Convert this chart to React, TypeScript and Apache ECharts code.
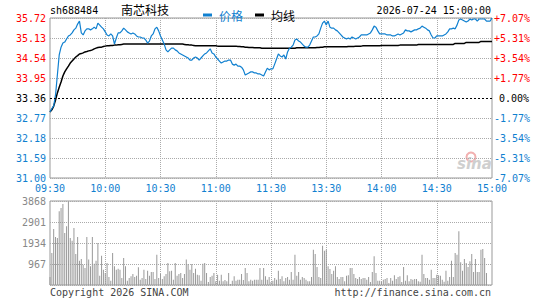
import React, { useEffect, useRef } from 'react';
import * as echarts from 'echarts';

const stockCode = 'sh688484';
const stockName = '南芯科技';
const dateTime = '2026-07-24 15:00:00';
const preClose = 33.36;

const priceTicks = ['31.00', '31.59', '32.18', '32.77', '33.36', '33.95', '34.54', '35.13', '35.72'];
const pctTicks = ['-7.07%', '-5.31%', '-3.54%', '-1.77%', '0.00%', '+1.77%', '+3.54%', '+5.31%', '+7.07%'];
const timeTicks = ['09:30', '10:00', '10:30', '11:00', '11:30', '13:30', '14:00', '14:30', '15:00'];

const price = [
  32.95, 33.05, 33.13, 33.45, 34.04, 34.63, 34.86, 34.98, 35.01, 35.10,
  35.19, 35.22, 35.28, 35.37, 35.42, 35.54, 35.63, 35.28, 35.22, 35.34,
  35.40, 35.40, 35.37, 35.40, 35.45, 35.40, 35.57, 35.51, 35.45, 35.40,
  35.31, 35.22, 35.19, 35.25, 35.19, 34.95, 35.13, 35.28, 35.28, 35.34,
  35.42, 35.37, 35.31, 35.28, 35.25, 35.28, 35.25, 35.19, 35.16, 35.16,
  35.13, 35.13, 35.07, 34.98, 35.04, 35.19, 35.25, 35.40, 35.45, 35.34,
  35.19, 35.07, 34.95, 34.78, 34.72, 34.78, 34.83, 34.83, 34.78, 34.75,
  34.69, 34.66, 34.63, 34.60, 34.57, 34.54, 34.48, 34.48, 34.54, 34.57,
  34.54, 34.48, 34.54, 34.60, 34.66, 34.69, 34.75, 34.81, 34.69, 34.66,
  34.57, 34.51, 34.45, 34.39, 34.42, 34.45, 34.45, 34.48, 34.48, 34.36,
  34.33, 34.36, 34.30, 34.30, 34.27, 34.19, 34.04, 34.07, 34.10, 34.13,
  34.13, 34.10, 34.10, 34.07, 34.07, 34.04, 34.01, 34.13, 34.24, 34.19,
  34.22, 34.22, 34.36, 34.51, 34.66, 34.60, 34.57, 34.63, 34.51, 34.72,
  34.83, 34.86, 34.92, 35.07, 35.10, 35.04, 35.01, 34.95, 34.89, 34.86,
  34.86, 34.92, 35.04, 35.16, 35.16, 35.19, 35.25, 35.42, 35.57, 35.63,
  35.51, 35.63, 35.45, 35.42, 35.42, 35.37, 35.34, 35.28, 35.22, 35.16,
  35.13, 35.10, 35.13, 35.10, 35.16, 35.13, 35.10, 35.13, 35.16, 35.22,
  35.22, 35.22, 35.22, 35.25, 35.28, 35.37, 35.48, 35.45, 35.34, 35.25,
  35.25, 35.25, 35.25, 35.22, 35.22, 35.22, 35.19, 35.19, 35.22, 35.25,
  35.22, 35.25, 35.28, 35.37, 35.34, 35.34, 35.31, 35.34, 35.37, 35.37,
  35.40, 35.42, 35.48, 35.45, 35.42, 35.37, 35.34, 35.22, 35.13, 35.13,
  35.19, 35.19, 35.19, 35.19, 35.22, 35.25, 35.31, 35.40, 35.40, 35.42,
  35.40, 35.51, 35.66, 35.69, 35.66, 35.63, 35.60, 35.63, 35.69, 35.66,
  35.69, 35.69, 35.63, 35.69, 35.69, 35.69, 35.69, 35.63, 35.63, 35.63,
  35.72,
];

const avgPrice = [
  32.95, 33.01, 33.12, 33.30, 33.51, 33.68, 33.83, 34.01, 34.13, 34.22,
  34.30, 34.39, 34.45, 34.51, 34.57, 34.61, 34.66, 34.67, 34.69, 34.72,
  34.73, 34.75, 34.76, 34.78, 34.81, 34.83, 34.85, 34.86, 34.86, 34.88,
  34.89, 34.90, 34.90, 34.91, 34.91, 34.92, 34.92, 34.93, 34.93, 34.94,
  34.95, 34.95, 34.95, 34.95, 34.95, 34.95, 34.95, 34.95, 34.95, 34.95,
  34.95, 34.95, 34.95, 34.95, 34.95, 34.95, 34.95, 34.95, 34.95, 34.95,
  34.95, 34.95, 34.95, 34.95, 34.95, 34.95, 34.95, 34.95, 34.95, 34.95,
  34.95, 34.95, 34.95, 34.94, 34.93, 34.93, 34.92, 34.92, 34.91, 34.90,
  34.90, 34.90, 34.90, 34.90, 34.90, 34.90, 34.90, 34.90, 34.90, 34.90,
  34.90, 34.89, 34.89, 34.89, 34.89, 34.89, 34.89, 34.89, 34.89, 34.89,
  34.89, 34.89, 34.88, 34.88, 34.87, 34.87, 34.86, 34.86, 34.85, 34.85,
  34.85, 34.84, 34.84, 34.84, 34.84, 34.83, 34.83, 34.83, 34.83, 34.83,
  34.83, 34.83, 34.83, 34.83, 34.83, 34.83, 34.83, 34.83, 34.83, 34.83,
  34.83, 34.83, 34.83, 34.83, 34.84, 34.84, 34.84, 34.84, 34.84, 34.84,
  34.84, 34.84, 34.84, 34.84, 34.84, 34.85, 34.85, 34.86, 34.86, 34.87,
  34.87, 34.87, 34.87, 34.87, 34.87, 34.87, 34.87, 34.87, 34.87, 34.87,
  34.87, 34.87, 34.88, 34.88, 34.88, 34.88, 34.89, 34.89, 34.89, 34.89,
  34.90, 34.90, 34.90, 34.90, 34.90, 34.90, 34.90, 34.90, 34.90, 34.90,
  34.91, 34.91, 34.91, 34.91, 34.91, 34.91, 34.91, 34.91, 34.91, 34.91,
  34.92, 34.92, 34.92, 34.92, 34.92, 34.92, 34.92, 34.92, 34.92, 34.92,
  34.94, 34.94, 34.94, 34.94, 34.94, 34.94, 34.94, 34.94, 34.94, 34.94,
  34.94, 34.94, 34.94, 34.94, 34.94, 34.94, 34.94, 34.94, 34.94, 34.94,
  34.97, 34.97, 34.97, 34.97, 34.97, 34.97, 35.00, 35.00, 35.00, 35.00,
  35.00, 35.00, 35.00, 35.00, 35.03, 35.03, 35.03, 35.03, 35.03, 35.03,
  35.03,
];

const volume = [
  368, 1473, 2578, 2210, 2164, 3393, 3545, 3730, 2394, 2703,
  3850, 2164, 2040, 2625, 1427, 2210, 1119, 1197, 935, 783,
  2210, 1170, 860, 2210, 982, 1119, 1934, 430, 1350, 705,
  552, 1013, 368, 200, 1473, 860, 705, 751, 705, 322,
  1243, 860, 200, 322, 400, 506, 368, 430, 813, 245,
  322, 705, 276, 660, 430, 598, 598, 276, 1395, 322,
  506, 276, 400, 506, 1013, 629, 660, 245, 1013, 430,
  506, 552, 322, 506, 1170, 966, 705, 966, 552, 751,
  475,
  446, 200, 982, 1013, 552, 138, 368, 430, 552, 170,
  475, 200, 475, 170, 230, 170, 552, 46, 200, 400,
  200, 245, 245, 506, 230, 783, 552, 170, 245, 200,
  245, 245, 245, 783, 245, 783, 400, 245, 368, 138,
  200,
  322, 245, 660, 276, 400, 170, 322, 368, 245, 598,
  245, 1395, 430, 598, 245, 368, 322, 245, 170, 170,
  368, 1625, 1427, 829, 368, 322, 1810, 1580, 1625, 860,
  736, 506, 660, 860, 368, 276, 368, 368, 170, 430,
  446, 783, 783, 506, 322, 276, 368, 276, 322, 322,
  245, 368, 138, 598, 1320, 552, 200, 200, 150,
  245, 276, 322, 92, 322, 200, 446, 276, 368, 400,
  138, 829, 200, 446, 170, 276, 245, 276, 276, 170,
  150,
  1395, 506, 322, 322, 245, 705, 322, 322, 475, 446, 430, 245,
  150,
  660, 200, 368, 1119, 368, 1473, 1395, 2471, 1043, 660,
  1197, 1013, 829, 1090, 1427, 598, 1197, 598, 598, 1625,
  1655, 1243, 552,
  0, 0, 0,
];

function buildMinutes(): string[] {
  const out: string[] = [];
  const fmt = (t: number) => {
    const h = Math.floor(t / 60);
    const m = t % 60;
    return (h < 10 ? '0' : '') + h + ':' + (m < 10 ? '0' : '') + m;
  };
  for (let t = 9 * 60 + 30; t <= 11 * 60 + 30; t++) out.push(fmt(t));
  for (let t = 13 * 60 + 1; t <= 15 * 60; t++) out.push(fmt(t));
  return out;
}

const MONO = "'DejaVu Sans Mono', 'Liberation Mono', monospace";
const CJK = "'Noto Sans CJK SC', sans-serif";
const BLUE = '#1080d0';
const RED = '#ff0000';
const GRIDC = '#aaaaaa';
const BORDER = '#999999';

export default function App() {
  const ref = useRef<HTMLDivElement>(null);

  useEffect(() => {
    if (!ref.current) return;
    const chart = echarts.init(ref.current, null, { renderer: 'svg' });
    const minutes = buildMinutes();
    const isTick = (i: number) => i % 30 === 0;
    const isInner = (i: number) => i % 30 === 0 && i > 0 && i < 240;
    const tickColor = (v: any) => {
      const n = Number(v);
      return n > 4 ? RED : n === 4 ? '#000000' : BLUE;
    };
    const splitColors = priceTicks.map((_, i) => (i === 4 ? 'rgba(0,0,0,0)' : GRIDC));

    const option: any = {
      animation: false,
      legend: {
        left: 198,
        top: 4,
        icon: 'rect',
        itemWidth: 9,
        itemHeight: 3,
        itemGap: 12,
        selectedMode: false,
        textStyle: { fontSize: 12, fontFamily: CJK, padding: [0, 0, 0, 2] },
        data: [
          { name: '价格', textStyle: { color: BLUE } },
          { name: '均线', textStyle: { color: '#000000' } },
        ],
      },
      grid: [
        { left: 50, top: 18, width: 442, height: 160, show: true, borderColor: BORDER, borderWidth: 1, backgroundColor: 'transparent' },
        { left: 50, top: 201, width: 442, height: 84, show: true, borderColor: BORDER, borderWidth: 1, backgroundColor: 'transparent' },
      ],
      xAxis: [
        {
          type: 'category', gridIndex: 0, data: minutes, boundaryGap: false,
          axisLine: { show: false }, axisTick: { show: false },
          axisLabel: {
            interval: (i: number) => isTick(i),
            formatter: (_v: string, i: number) => timeTicks[Math.round(i / 30)] ?? '',
            color: BLUE, fontFamily: MONO, fontSize: 10, margin: 5,
          },
          splitLine: { show: true, interval: (i: number) => isInner(i), lineStyle: { color: GRIDC, type: [1, 1], width: 1 } },
        },
        {
          type: 'category', gridIndex: 1, data: minutes, boundaryGap: false,
          axisLine: { show: false }, axisTick: { show: false }, axisLabel: { show: false },
          splitLine: { show: true, interval: (i: number) => isInner(i), lineStyle: { color: GRIDC, type: [1, 1], width: 1 } },
        },
      ],
      yAxis: [
        {
          type: 'value', gridIndex: 0, min: 0, max: 8, interval: 1, position: 'left',
          axisLine: { show: false }, axisTick: { show: false },
          axisLabel: {
            formatter: (v: number) => priceTicks[Math.round(v)],
            color: tickColor, fontFamily: MONO, fontSize: 10, margin: 4,
          },
          splitLine: { show: true, lineStyle: { color: splitColors, type: [1, 1], width: 1 } },
        },
        {
          type: 'value', gridIndex: 0, min: 0, max: 8, interval: 1, position: 'right',
          axisLine: { show: false }, axisTick: { show: false },
          axisLabel: {
            formatter: (v: number) => {
              const i = Math.round(v);
              return i === 4 ? '{z|' + pctTicks[i] + '}' : pctTicks[i];
            },
            rich: { z: { padding: [0, 0, 0, 5], fontFamily: MONO, fontSize: 10, color: '#000000' } },
            color: tickColor, fontFamily: MONO, fontSize: 10, margin: 2,
          },
          splitLine: { show: false },
        },
        { type: 'value', gridIndex: 0, min: 31.0, max: 35.72, show: false, splitLine: { show: false } },
        {
          type: 'value', gridIndex: 1, min: 0, max: 3868, interval: 967, position: 'left',
          axisLine: { show: false }, axisTick: { show: false },
          axisLabel: {
            formatter: (v: number) => (v === 0 ? '' : String(v)),
            color: '#888888', fontFamily: MONO, fontSize: 10, margin: 4,
          },
          splitLine: { show: true, lineStyle: { color: GRIDC, type: [1, 1], width: 1 } },
        },
      ],
      series: [
        {
          name: '价格', type: 'line', xAxisIndex: 0, yAxisIndex: 2, data: price,
          showSymbol: false, symbol: 'none', lineStyle: { color: BLUE, width: 1.2 }, itemStyle: { color: BLUE },
          z: 3,
          markLine: {
            silent: true, symbol: 'none', label: { show: false },
            lineStyle: { color: '#000000', type: [2, 2], width: 1 },
            data: [{ yAxis: preClose }],
          },
        },
        {
          name: '均线', type: 'line', xAxisIndex: 0, yAxisIndex: 2, data: avgPrice,
          showSymbol: false, symbol: 'none', lineStyle: { color: '#000000', width: 1.5 }, itemStyle: { color: '#000000' },
          z: 2,
        },
        {
          name: 'volume', type: 'bar', xAxisIndex: 1, yAxisIndex: 3, data: volume,
          barWidth: 1, itemStyle: { color: '#999999' },
        },
      ],
      graphic: [
        { type: 'text', left: 50, top: 5, style: { text: stockCode, font: `10px ${MONO}`, fill: '#000000' } },
        { type: 'text', left: 121, top: 3, style: { text: stockName, font: `12px ${CJK}`, fill: '#000000' } },
        { type: 'text', right: 54, top: 5, style: { text: dateTime, font: `10px ${MONO}`, fill: '#000000' } },
        { type: 'text', left: 50, top: 287, style: { text: 'Copyright 2026 SINA.COM', font: `10px ${MONO}`, fill: '#444444' } },
        { type: 'text', right: 54, top: 287, style: { text: 'http://finance.sina.com.cn', font: `10px ${MONO}`, fill: '#444444' } },
        { type: 'circle', shape: { cx: 471, cy: 157, r: 4.5 }, style: { fill: 'none', stroke: '#f2b0b0', lineWidth: 2 } },
        { type: 'text', left: 457, top: 156, style: { text: 'sina', font: `italic bold 15px 'DejaVu Sans', sans-serif`, fill: '#cfcfcf' } },
      ],
    };
    chart.setOption(option);
    return () => chart.dispose();
  }, []);

  return (
    <div
      ref={ref}
      style={{ position: 'fixed', left: 0, top: 0, width: 545, height: 300, background: '#ffffff' }}
    />
  );
}
